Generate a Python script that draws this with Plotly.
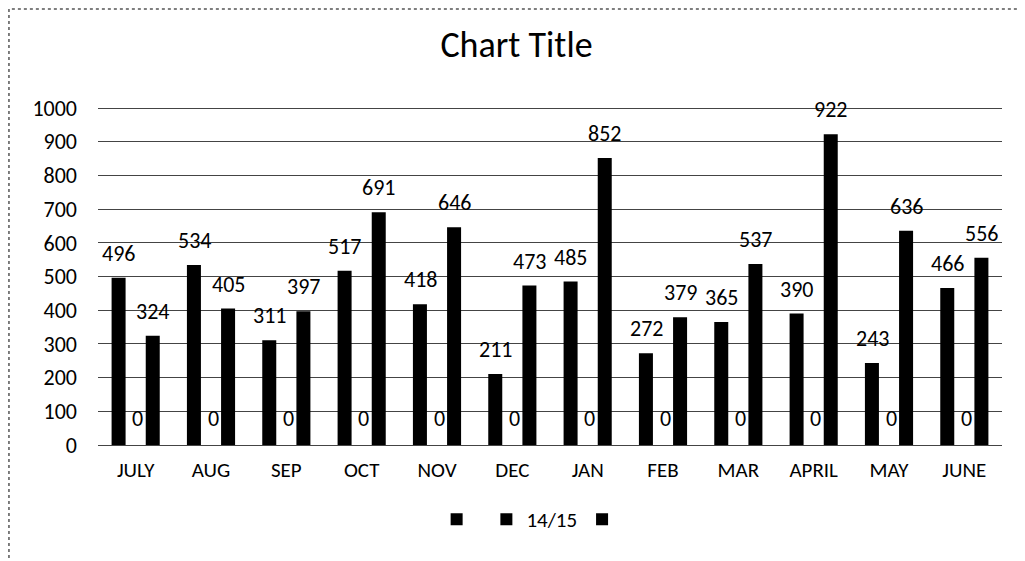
import plotly.graph_objects as go

categories = ["JULY", "AUG", "SEP", "OCT", "NOV", "DEC", "JAN", "FEB", "MAR", "APRIL", "MAY", "JUNE"]
series_a = [496, 534, 311, 517, 418, 211, 485, 272, 365, 390, 243, 466]
series_b = [0, 0, 0, 0, 0, 0, 0, 0, 0, 0, 0, 0]
series_c = [324, 405, 397, 691, 646, 473, 852, 379, 537, 922, 636, 556]
series_names = [" ", "14/15", " "]
y_ticks = list(range(0, 1001, 100))

FONT = "Carlito, Lato, sans-serif"

fig = go.Figure()
for name, vals in zip(series_names, [series_a, series_b, series_c]):
    fig.add_trace(go.Bar(x=categories, y=vals, name=name,
                         marker=dict(color="black", line=dict(width=0))))

annotations = []
for vals, xs in [(series_a, -17), (series_c, 17)]:
    for c, v in zip(categories, vals):
        annotations.append(dict(x=c, y=v, xref="x", yref="y", text=str(v), showarrow=False,
                                xshift=xs, yshift=9, yanchor="bottom",
                                font=dict(family=FONT, size=22, color="black")))
for c, v in zip(categories, series_b):
    annotations.append(dict(x=c, y=v, xref="x", yref="y", text=str(v), showarrow=False,
                            xshift=2, yshift=27, yanchor="middle",
                            font=dict(family=FONT, size=22, color="black")))

fig.update_layout(
    width=1017, height=553,
    paper_bgcolor="white", plot_bgcolor="white",
    margin=dict(l=90, r=23, t=99, b=116),
    barmode="group", bargap=0.32, bargroupgap=0.18,
    title=dict(text="Chart Title", x=0.5, xanchor="center", y=0.935, yanchor="middle",
               font=dict(family=FONT, size=36, color="black")),
    font=dict(family=FONT, size=22, color="black"),
    showlegend=True,
    legend=dict(orientation="h", x=0.483, xanchor="center", y=-0.16, yanchor="top",
                font=dict(family=FONT, size=21, color="black"), itemwidth=30,
                traceorder="normal"),
    annotations=annotations,
    xaxis=dict(showline=False, ticks="", ticklabelstandoff=10,
               tickfont=dict(family=FONT, size=21, color="black")),
    yaxis=dict(range=[0, 1003], tickvals=y_ticks, showgrid=True, gridcolor="#444",
               gridwidth=1, zeroline=True, zerolinecolor="#444", zerolinewidth=1,
               showline=False, ticks="", ticklabelstandoff=20,
               tickfont=dict(family=FONT, size=22, color="black")),
    shapes=[dict(type="rect", xref="paper", yref="paper", x0=-0.0985, x1=1.1, y0=-0.5, y1=1.29,
                 line=dict(color="#555", width=1.5, dash="dot"))],
)

fig.write_html("out.html")
